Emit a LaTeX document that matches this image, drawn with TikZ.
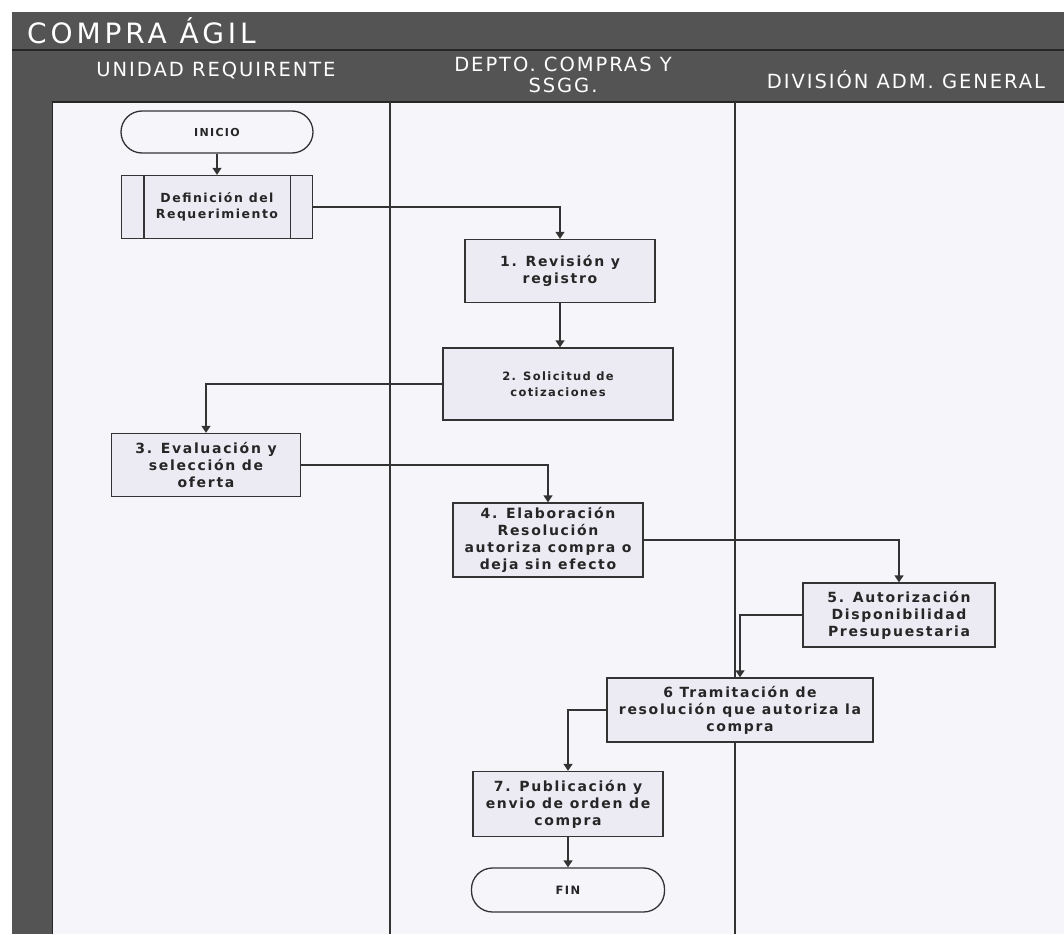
\documentclass[tikz,border=0pt]{standalone}
\usepackage{fontspec}
\setmainfont{DejaVu Sans}
\newfontfamily\boxfont[LetterSpace=12]{DejaVu Sans}
\newfontfamily\headfont[LetterSpace=10]{DejaVu Sans}
\newfontfamily\titlefont[LetterSpace=14]{DejaVu Sans}
\usetikzlibrary{arrows.meta,calc}
\definecolor{framegray}{HTML}{545454}
\definecolor{framedark}{HTML}{262626}
\definecolor{pagebg}{HTML}{F6F5FA}
\definecolor{boxfill}{HTML}{ECEBF4}
\definecolor{edgecol}{HTML}{333333}
\begin{document}
\begin{tikzpicture}[x=1pt,y=-1pt,
  proc/.style={draw=edgecol, line width=1.3pt, fill=boxfill, align=center,
    font=\boxfont\bfseries\fontsize{14}{17}\selectfont, inner sep=2pt, text=black!85},
  term/.style={proc, rounded corners=21pt, fill=pagebg},
  conn/.style={draw=edgecol, line width=1.3pt, -{Triangle[width=9pt,length=7pt]}},
  lane/.style={draw=edgecol, line width=1.1pt},
  headtxt/.style={text=white, font=\headfont\fontsize{19.5}{21}\selectfont, align=center, inner sep=0pt}
]
\useasboundingbox (0,0) rectangle (1064,934);
% page
\fill[white] (0,0) rectangle (1064,934);
\fill[pagebg] (52,102) rectangle (1064,934);
% frame
\fill[framegray] (12,12) rectangle (1064,102);
\fill[framegray] (12,12) rectangle (52,934);
\draw[framedark, line width=1.5pt] (12,50) -- (1064,50);
\draw[framedark, line width=1.5pt] (52,102) -- (1064,102);
\draw[framedark, line width=1pt] (52,102) -- (52,934);
% lanes
\draw[lane] (390,102) -- (390,934);
\draw[lane] (735,102) -- (735,934);
% headers
\node[headtxt, font=\titlefont\fontsize{28}{30}\selectfont, anchor=west] (title) at (27,31) {COMPRA ÁGIL};
\node[headtxt] (h1) at (216,71) {UNIDAD REQUIRENTE};
\node[headtxt] (h2) at (563,75) {DEPTO. COMPRAS Y\\SSGG.};
\node[headtxt] (h3) at (906,80) {DIVISIÓN ADM. GENERAL};
% nodes
\node[term, minimum width=192pt, minimum height=42pt, font=\boxfont\bfseries\fontsize{11}{14}\selectfont] (inicio) at (217,132) {INICIO};
\node[proc, minimum width=191pt, minimum height=63pt, font=\boxfont\bfseries\fontsize{12.5}{16}\selectfont] (def) at (217,207) {Definición del\\Requerimiento};
\draw[edgecol, line width=1.3pt] ($(def.north west)+(23,0)$) -- ($(def.south west)+(23,0)$);
\draw[edgecol, line width=1.3pt] ($(def.north east)+(-23,0)$) -- ($(def.south east)+(-23,0)$);
\node[proc, minimum width=190pt, minimum height=63pt] (b1) at (560,271) {1. Revisión y\\registro};
\node[proc, minimum width=230pt, minimum height=72pt, font=\boxfont\bfseries\fontsize{11.5}{16}\selectfont] (b2) at (558,384) {2. Solicitud de\\cotizaciones};
\node[proc, minimum width=189pt, minimum height=63pt] (b3) at (206,465) {3. Evaluación y\\selección de\\oferta};
\node[proc, minimum width=190pt, minimum height=74pt] (b4) at (548,540) {4. Elaboración\\Resolución\\autoriza compra o\\deja sin efecto};
\node[proc, minimum width=192pt, minimum height=64pt] (b5) at (899,615) {5. Autorización\\Disponibilidad\\Presupuestaria};
\node[proc, minimum width=266pt, minimum height=64pt] (b6) at (740,710) {6 Tramitación de\\resolución que autoriza la\\compra};
\node[proc, minimum width=190pt, minimum height=65pt] (b7) at (568,804) {7. Publicación y\\envio de orden de\\compra};
\node[term, minimum width=193pt, minimum height=44pt, font=\boxfont\bfseries\fontsize{11.5}{14}\selectfont] (fin) at (568,890) {FIN};
% connectors
\draw[conn] (inicio.south) -- (def.north);
\draw[conn] (def.east) -| (b1.north);
\draw[conn] (b1.south) -- (b1.south |- b2.north);
\draw[conn] (b2.west) -| (b3.north);
\draw[conn] (b3.east) -| (b4.north);
\draw[conn] (b4.east) -| (b5.north);
\draw[conn] (b5.west) -| (b6.north);
\draw[conn] (b6.west) -| (b7.north);
\draw[conn] (b7.south) -- (fin.north);
\end{tikzpicture}
\end{document}
